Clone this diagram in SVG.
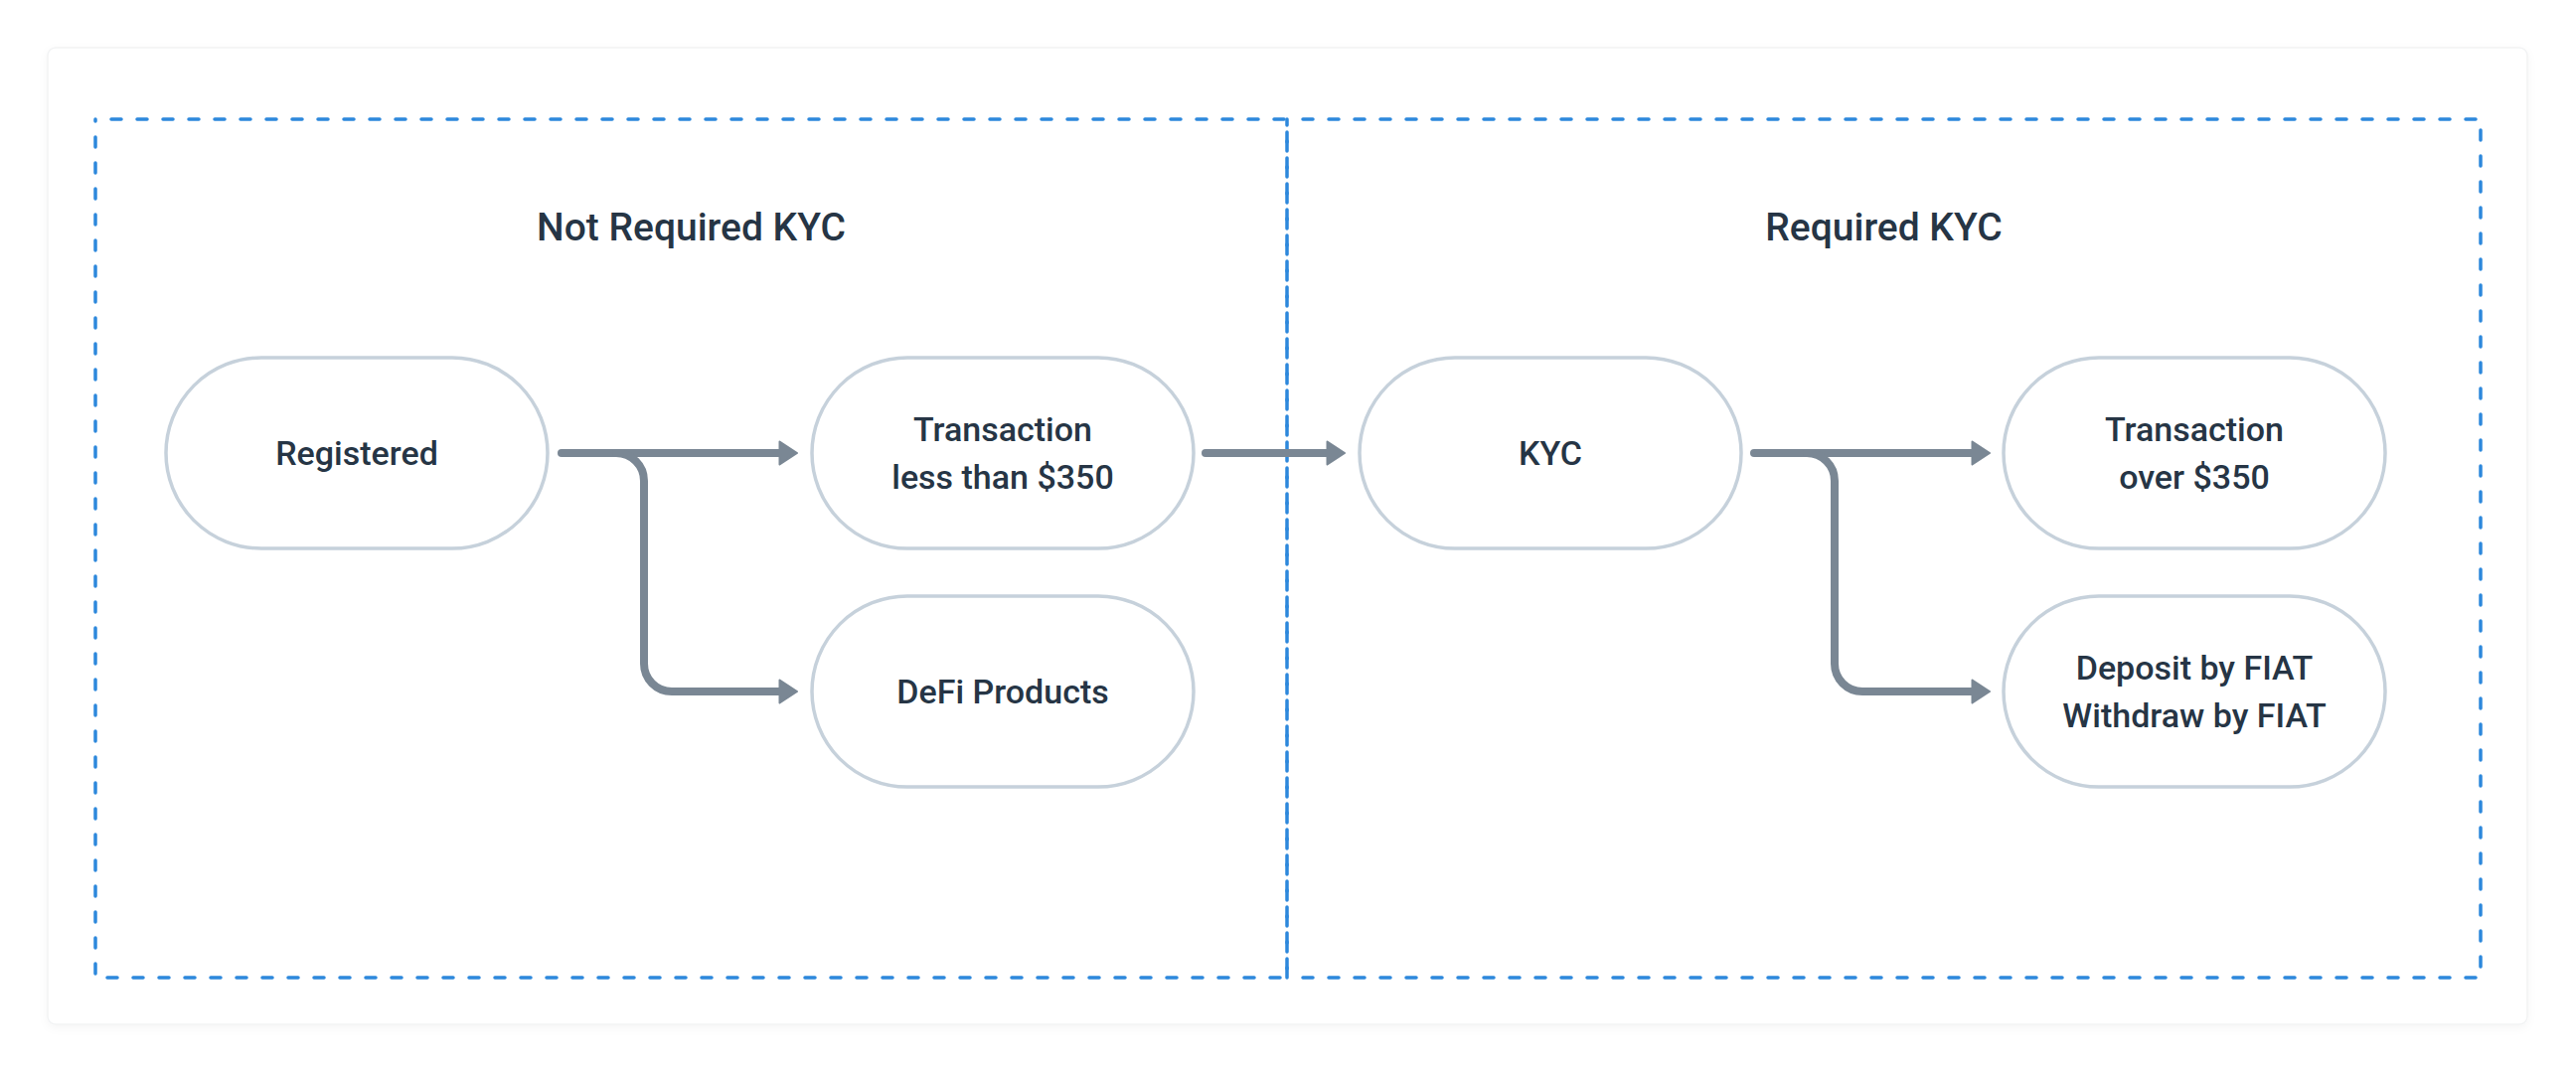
<svg xmlns="http://www.w3.org/2000/svg" width="2592" height="1080" viewBox="0 0 2592 1080">
  <defs>
    <style>
      .panel { fill: #ffffff; stroke: #f2f3f4; stroke-width: 1.5; }
      .zone { fill: none; stroke: #2d88dc; stroke-width: 3.5; stroke-dasharray: 10 16; stroke-dashoffset: 10; stroke-linecap: round; }
      .node rect { fill: #ffffff; stroke: #c6d1db; stroke-width: 3.5; }
      .label { font-family: Roboto, "Noto Sans", "Liberation Sans", sans-serif; font-weight: 500; font-size: 34px; fill: #263545; text-anchor: middle; }
      .title { font-family: Roboto, "Noto Sans", "Liberation Sans", sans-serif; font-weight: 500; font-size: 39px; fill: #263545; text-anchor: middle; }
      .conn { fill: none; stroke: #7a8794; stroke-width: 8; stroke-linecap: round; stroke-linejoin: round; }
    </style>
    <filter id="shadow" x="-2%" y="-2%" width="104%" height="106%">
      <feDropShadow dx="0" dy="3" stdDeviation="4" flood-color="#000000" flood-opacity="0.04"/>
    </filter>
    <marker id="arrow" viewBox="0 0 20 26" refX="2" refY="13" markerWidth="20" markerHeight="26" markerUnits="userSpaceOnUse" orient="auto">
      <path d="M1.5,1.5 L19,13 L1.5,24.5 Z" fill="#7a8794" stroke="#7a8794" stroke-width="2" stroke-linejoin="round"/>
    </marker>
  </defs>

  <rect x="0" y="0" width="2592" height="1080" fill="#ffffff"/>
  <rect class="panel" x="48" y="48" width="2495" height="983" rx="8" filter="url(#shadow)"/>

  <g id="zone-not-required">
    <rect class="zone" x="96" y="120" width="1199" height="864"/>
    <text class="title" x="695.5" y="242">Not Required KYC</text>
  </g>
  <g id="zone-required">
    <rect class="zone" x="1295" y="120" width="1201" height="864"/>
    <text class="title" x="1895.5" y="242">Required KYC</text>
  </g>

  <g id="connectors">
    <path class="conn" d="M565,456 H785" marker-end="url(#arrow)"/>
    <path class="conn" d="M620,456 A28,28 0 0 1 648,484 V668 A28,28 0 0 0 676,696 H785" marker-end="url(#arrow)"/>
    <path class="conn" d="M1213,456 H1336" marker-end="url(#arrow)"/>
    <path class="conn" d="M1765,456 H1985" marker-end="url(#arrow)"/>
    <path class="conn" d="M1818,456 A28,28 0 0 1 1846,484 V668 A28,28 0 0 0 1874,696 H1985" marker-end="url(#arrow)"/>
  </g>

  <g id="node-registered" class="node">
    <rect x="167" y="360" width="384" height="192" rx="96"/>
    <text class="label" x="359" y="468">Registered</text>
  </g>
  <g id="node-transaction-less" class="node">
    <rect x="817" y="360" width="384" height="192" rx="96"/>
    <text class="label" x="1009" y="444">Transaction</text>
    <text class="label" x="1009" y="492">less than $350</text>
  </g>
  <g id="node-defi" class="node">
    <rect x="817" y="600" width="384" height="192" rx="96"/>
    <text class="label" x="1009" y="708">DeFi Products</text>
  </g>
  <g id="node-kyc" class="node">
    <rect x="1368" y="360" width="384" height="192" rx="96"/>
    <text class="label" x="1560" y="468">KYC</text>
  </g>
  <g id="node-transaction-over" class="node">
    <rect x="2016" y="360" width="384" height="192" rx="96"/>
    <text class="label" x="2208" y="444">Transaction</text>
    <text class="label" x="2208" y="492">over $350</text>
  </g>
  <g id="node-fiat" class="node">
    <rect x="2016" y="600" width="384" height="192" rx="96"/>
    <text class="label" x="2208" y="684">Deposit by FIAT</text>
    <text class="label" x="2208" y="732">Withdraw by FIAT</text>
  </g>
</svg>
